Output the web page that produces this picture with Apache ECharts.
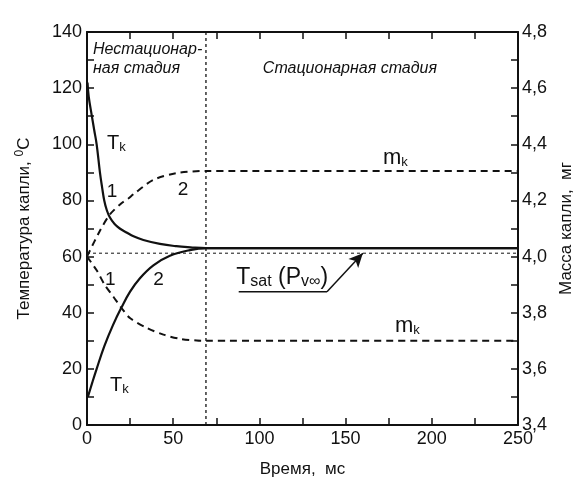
<!doctype html>
<html>
<head>
<meta charset="UTF-8">
<title>Температура и масса капли</title>
<script src="https://cdn.jsdelivr.net/npm/echarts/dist/echarts.min.js"></script>
<style>
  html, body { margin: 0; padding: 0; background: #fff; }
  #main { width: 587px; height: 483px; }
</style>
</head>
<body>
<div id="main"></div>
<script>
// время, мс / температура, °C (левая ось)
var tk1 = [[0.3,122],[1,117],[2.7,110.5],[4.2,105],[5.6,100],[7.5,90],[8.8,84.5],[10,80],[11.5,76.5],[13.3,73.9],[16,71.6],[19,70],[22.9,68.6],[27,67.2],[32.7,65.9],[42.3,64.5],[51.8,63.7],[60,63.3],[69,63],[250,63]];
var tk2 = [[0.5,10],[3,15],[5.6,20],[10,28],[15,35.5],[20.1,42],[25,47.5],[30.7,52.3],[38.5,56.9],[48.1,60.3],[59.7,62.3],[69,63],[250,63]];
// масса капли, мг (правая ось)
var mkUp = [[0,4.0],[7.5,4.092],[13.3,4.15],[20,4.19],[24,4.207],[26.9,4.222],[38.5,4.273],[51.8,4.297],[69,4.305],[250,4.305]];
var mkLow = [[0,4.0],[5.6,3.951],[10.4,3.898],[15.3,3.857],[20.1,3.816],[24.9,3.781],[34.6,3.746],[44.3,3.722],[53.9,3.707],[63.6,3.701],[69,3.70],[250,3.70]];
var tsat = [[0,61.2],[250,61.2]];
var stageBorder = [[69,0],[69,140]];
var pointer = [[88,47.5],[139.2,47.5]];
var arrowTip = [160,61.2];

var xTicks = { min: 0, max: 250, step: 50 };
var yLeftTicks = { min: 0, max: 140, step: 20 };
var yRightTicks = { min: 3.4, max: 4.8, step: 0.2 };

// подписи: [x, y, текст]
var notes = [
  [3.5, 130.5, '{it|Нестационар-}\n{it|ная стадия}'],
  [102, 126.9, '{it|Стационарная стадия}'],
  [11.6, 100.2, '{b|T}{s|k}'],
  [13.3, 14, '{b|T}{s|k}'],
  [11.4, 83.2, '{n|1}'],
  [52.6, 83.8, '{n|2}'],
  [10.4, 51.6, '{n|1}'],
  [38.5, 51.6, '{n|2}'],
  [171.7, 95, '{m|m}{s|k}'],
  [178.6, 35.2, '{m|m}{s|k}'],
  [86.6, 52.6, '{t|T}{ts|sat}{t| (P}{ts|v∞}{t|)}']
];

var ink = '#111';
var font = "'Liberation Sans', Arial, sans-serif";

function tickAxis(extra) {
  var base = {
    type: 'value',
    splitLine: { show: false },
    axisLine: { show: true, onZero: false, lineStyle: { color: ink, width: 2 } },
    axisTick: { show: true, inside: true, length: 7, lineStyle: { color: ink, width: 1.5 } },
    minorTick: { show: true, splitNumber: 2, length: 7, lineStyle: { color: ink, width: 1.5 } },
    axisLabel: { color: ink, fontSize: 18, fontFamily: font }
  };
  for (var k in extra) base[k] = extra[k];
  return base;
}

var chart = echarts.init(document.getElementById('main'));
chart.setOption({
  animation: false,
  backgroundColor: '#fff',
  textStyle: { fontFamily: font },
  grid: { left: 87, right: 69, top: 32, bottom: 53 },
  xAxis: [
    tickAxis({ min: xTicks.min, max: xTicks.max, interval: xTicks.step, position: 'bottom',
      axisLabel: { color: ink, fontSize: 18, fontFamily: font, margin: 5 },
      name: 'Время,  мс', nameLocation: 'middle', nameGap: 36,
      nameTextStyle: { color: ink, fontSize: 17, fontFamily: font } }),
    tickAxis({ min: xTicks.min, max: xTicks.max, interval: xTicks.step, position: 'top',
      axisLabel: { show: false } })
  ],
  yAxis: [
    tickAxis({ min: yLeftTicks.min, max: yLeftTicks.max, interval: yLeftTicks.step, position: 'left',
      axisLabel: { color: ink, fontSize: 18, fontFamily: font, margin: 5 },
      name: 'Температура капли, {sup|0}C', nameLocation: 'middle', nameGap: 53, nameRotate: 90,
      nameTextStyle: { color: ink, fontSize: 17, fontFamily: font,
        rich: { sup: { fontSize: 12, verticalAlign: 'top', padding: [0, 0, 8, 0], color: ink } } } }),
    tickAxis({ min: yRightTicks.min, max: yRightTicks.max, interval: yRightTicks.step, position: 'right',
      axisLabel: { color: ink, fontSize: 18, fontFamily: font, margin: 4,
        formatter: function (v) { return v.toFixed(1).replace('.', ','); } },
      name: 'Масса капли,  мг', nameLocation: 'middle', nameGap: 40, nameRotate: 90,
      nameTextStyle: { color: ink, fontSize: 17, fontFamily: font } })
  ],
  series: [
    { type: 'line', data: tk1, yAxisIndex: 0, smooth: 0.4, showSymbol: false,
      lineStyle: { color: ink, width: 2.2 } },
    { type: 'line', data: tk2, yAxisIndex: 0, smooth: 0.4, showSymbol: false,
      lineStyle: { color: ink, width: 2.2 } },
    { type: 'line', data: mkUp, yAxisIndex: 1, smooth: 0.3, showSymbol: false,
      lineStyle: { color: ink, width: 2, type: [7, 5] } },
    { type: 'line', data: mkLow, yAxisIndex: 1, smooth: 0.3, showSymbol: false,
      lineStyle: { color: ink, width: 2, type: [7, 5] } },
    { type: 'line', data: tsat, yAxisIndex: 0, showSymbol: false,
      lineStyle: { color: ink, width: 1, type: [3, 3] } },
    { type: 'line', data: stageBorder, yAxisIndex: 0, showSymbol: false,
      lineStyle: { color: ink, width: 1.3, type: [3, 3] } },
    { type: 'line', data: pointer, yAxisIndex: 0, showSymbol: false,
      lineStyle: { color: ink, width: 1.5 },
      markLine: { silent: true, symbol: ['none', 'arrow'], symbolSize: [10, 14], label: { show: false },
        lineStyle: { color: ink, width: 1.5, type: 'solid' },
        data: [[{ coord: pointer[pointer.length - 1] }, { coord: arrowTip }]] } },
    { type: 'scatter', yAxisIndex: 0, symbolSize: 0, itemStyle: { color: ink, opacity: 1 }, silent: true,
      data: notes.map(function (n) { return { value: [n[0], n[1]], text: n[2] }; }),
      label: { show: true, position: 'right', distance: 0, color: ink,
        formatter: function (p) { return p.data.text; },
        rich: {
          it: { fontSize: 16, fontStyle: 'italic', color: ink, lineHeight: 19 },
          b: { fontSize: 20, color: ink },
          m: { fontSize: 22, color: ink },
          n: { fontSize: 19, color: ink },
          s: { fontSize: 13, color: ink, verticalAlign: 'bottom', padding: [8, 0, 0, 0] },
          t: { fontSize: 23, color: ink },
          ts: { fontSize: 16, color: ink, verticalAlign: 'bottom', padding: [8, 0, 0, 0] }
        } } }
  ]
});
</script>
</body>
</html>
